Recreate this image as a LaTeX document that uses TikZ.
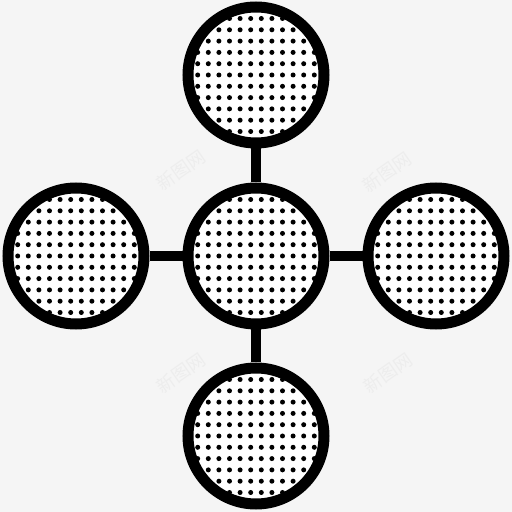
\documentclass[tikz,border=0pt]{standalone}
\usepackage{fontspec}
\newfontfamily\cjk{Noto Sans CJK SC}
\usetikzlibrary{positioning}

\begin{document}
\begin{tikzpicture}[
    x=1pt, y=1pt,
    node distance=180pt, on grid,
    disc/.style={circle, draw=black, line width=11pt, fill=white, minimum size=136pt, inner sep=0pt,
        path picture={
            \foreach \i in {-7,...,6}{
                \foreach \j in {-6,...,6}{
                    \fill[black, shift={(path picture bounding box.center)}] (\i*10.6+5.3, \j*11.3) circle (2.5pt);
                }
            }
        }},
    link/.style={draw=black, line width=10pt},
    wmark/.style={rotate=35, text=black!7, font=\cjk\fontsize{18}{18}\selectfont}
]

% Background
\fill[black!4] (0,0) rectangle (512,512);
\useasboundingbox (0,0) rectangle (512,512);

% Watermarks
\node[wmark] (wm1) at (181,342) {新图网};
\node[wmark] (wm2) at (387,340) {新图网};
\node[wmark] (wm3) at (181,139) {新图网};
\node[wmark] (wm4) at (388,139) {新图网};

% Hub
\node[disc] (hub) at (256,256) {};

% Satellites
\node[disc, above=of hub, yshift=1pt] (top) {};
\node[disc, below=of hub] (bottom) {};
\node[disc, left=of hub] (left) {};
\node[disc, right=of hub] (right) {};

% Links
\draw[link] (hub) -- (top);
\draw[link] (hub) -- (bottom);
\draw[link] (hub) -- (left);
\draw[link] (hub) -- (right);

\end{tikzpicture}
\end{document}
